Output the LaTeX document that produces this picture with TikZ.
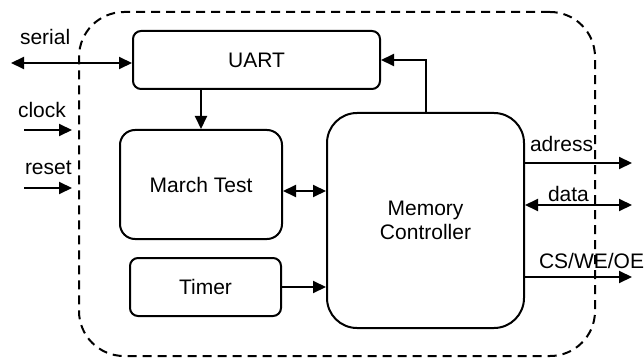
\documentclass[tikz,border=0pt]{standalone}
\usepackage{fontspec}
\setmainfont{Liberation Sans}
\usetikzlibrary{arrows.meta}
\begin{document}
\begin{tikzpicture}[x=1pt,y=-1pt,
  font=\fontsize{21}{24}\selectfont,
  line width=2pt,
  tip/.style={-{Triangle[length=13pt,width=12pt]}},
  bitip/.style={{Triangle[length=13pt,width=12pt]}-{Triangle[length=13pt,width=12pt]}},
  block/.style={draw,rectangle,inner sep=0pt,align=center},
  lbl/.style={anchor=base west,inner sep=0pt}]
\useasboundingbox (0,0) rectangle (644,358);

% chip boundary
\node[draw,dash pattern=on 9pt off 6pt,rectangle,rounded corners=45pt,
      minimum width=516pt,minimum height=344pt] (chip) at (337,184) {};

% functional blocks
\node[block,rounded corners=8pt,minimum width=247pt,minimum height=58pt] (uart) at (256.5,60) {UART};
\node[block,rounded corners=15pt,minimum width=162pt,minimum height=109pt] (march) at (201,184.5) {March Test};
\node[block,rounded corners=8pt,minimum width=151pt,minimum height=58pt] (timer) at (205.5,287) {Timer};
\node[block,rounded corners=30pt,minimum width=197pt,minimum height=215pt] (mc) at (425.5,220.5) {Memory\\Controller};

% port end points
\coordinate (serialend) at (11,63);
\coordinate (clk0) at (24,130);
\coordinate (clk1) at (72,130);
\coordinate (rst0) at (24,188);
\coordinate (rst1) at (72,188);
\coordinate (adrout) at (632,163);
\coordinate (datout) at (632,205);
\coordinate (ctlout) at (632,277);
\coordinate (mtbus) at (0,191);

% connectors
\draw[bitip] (serialend) -- (serialend -| uart.west);
\draw[tip] (clk0) -- (clk1);
\draw[tip] (rst0) -- (rst1);
\draw[tip] (march.north |- uart.south) -- (march.north);
\draw[tip] (mc.north) |- (uart.east);
\draw[bitip] (march.east |- mtbus) -- (mc.west |- mtbus);
\draw[tip] (timer.east) -- (timer.east -| mc.west);
\draw[tip] (adrout -| mc.east) -- (adrout);
\draw[bitip] (datout -| mc.east) -- (datout);
\draw[tip] (ctlout -| mc.east) -- (ctlout);

% port labels
\node[lbl] (lserial) at (19,45) {serial};
\node[lbl] (lclock) at (17,118) {clock};
\node[lbl] (lreset) at (24,175) {reset};
\node[lbl] (ladr) at (529,152) {adress};
\node[lbl] (ldat) at (547,201) {data};
\node[lbl] (lctl) at (538,268) {CS/WE/OE};
\end{tikzpicture}
\end{document}
